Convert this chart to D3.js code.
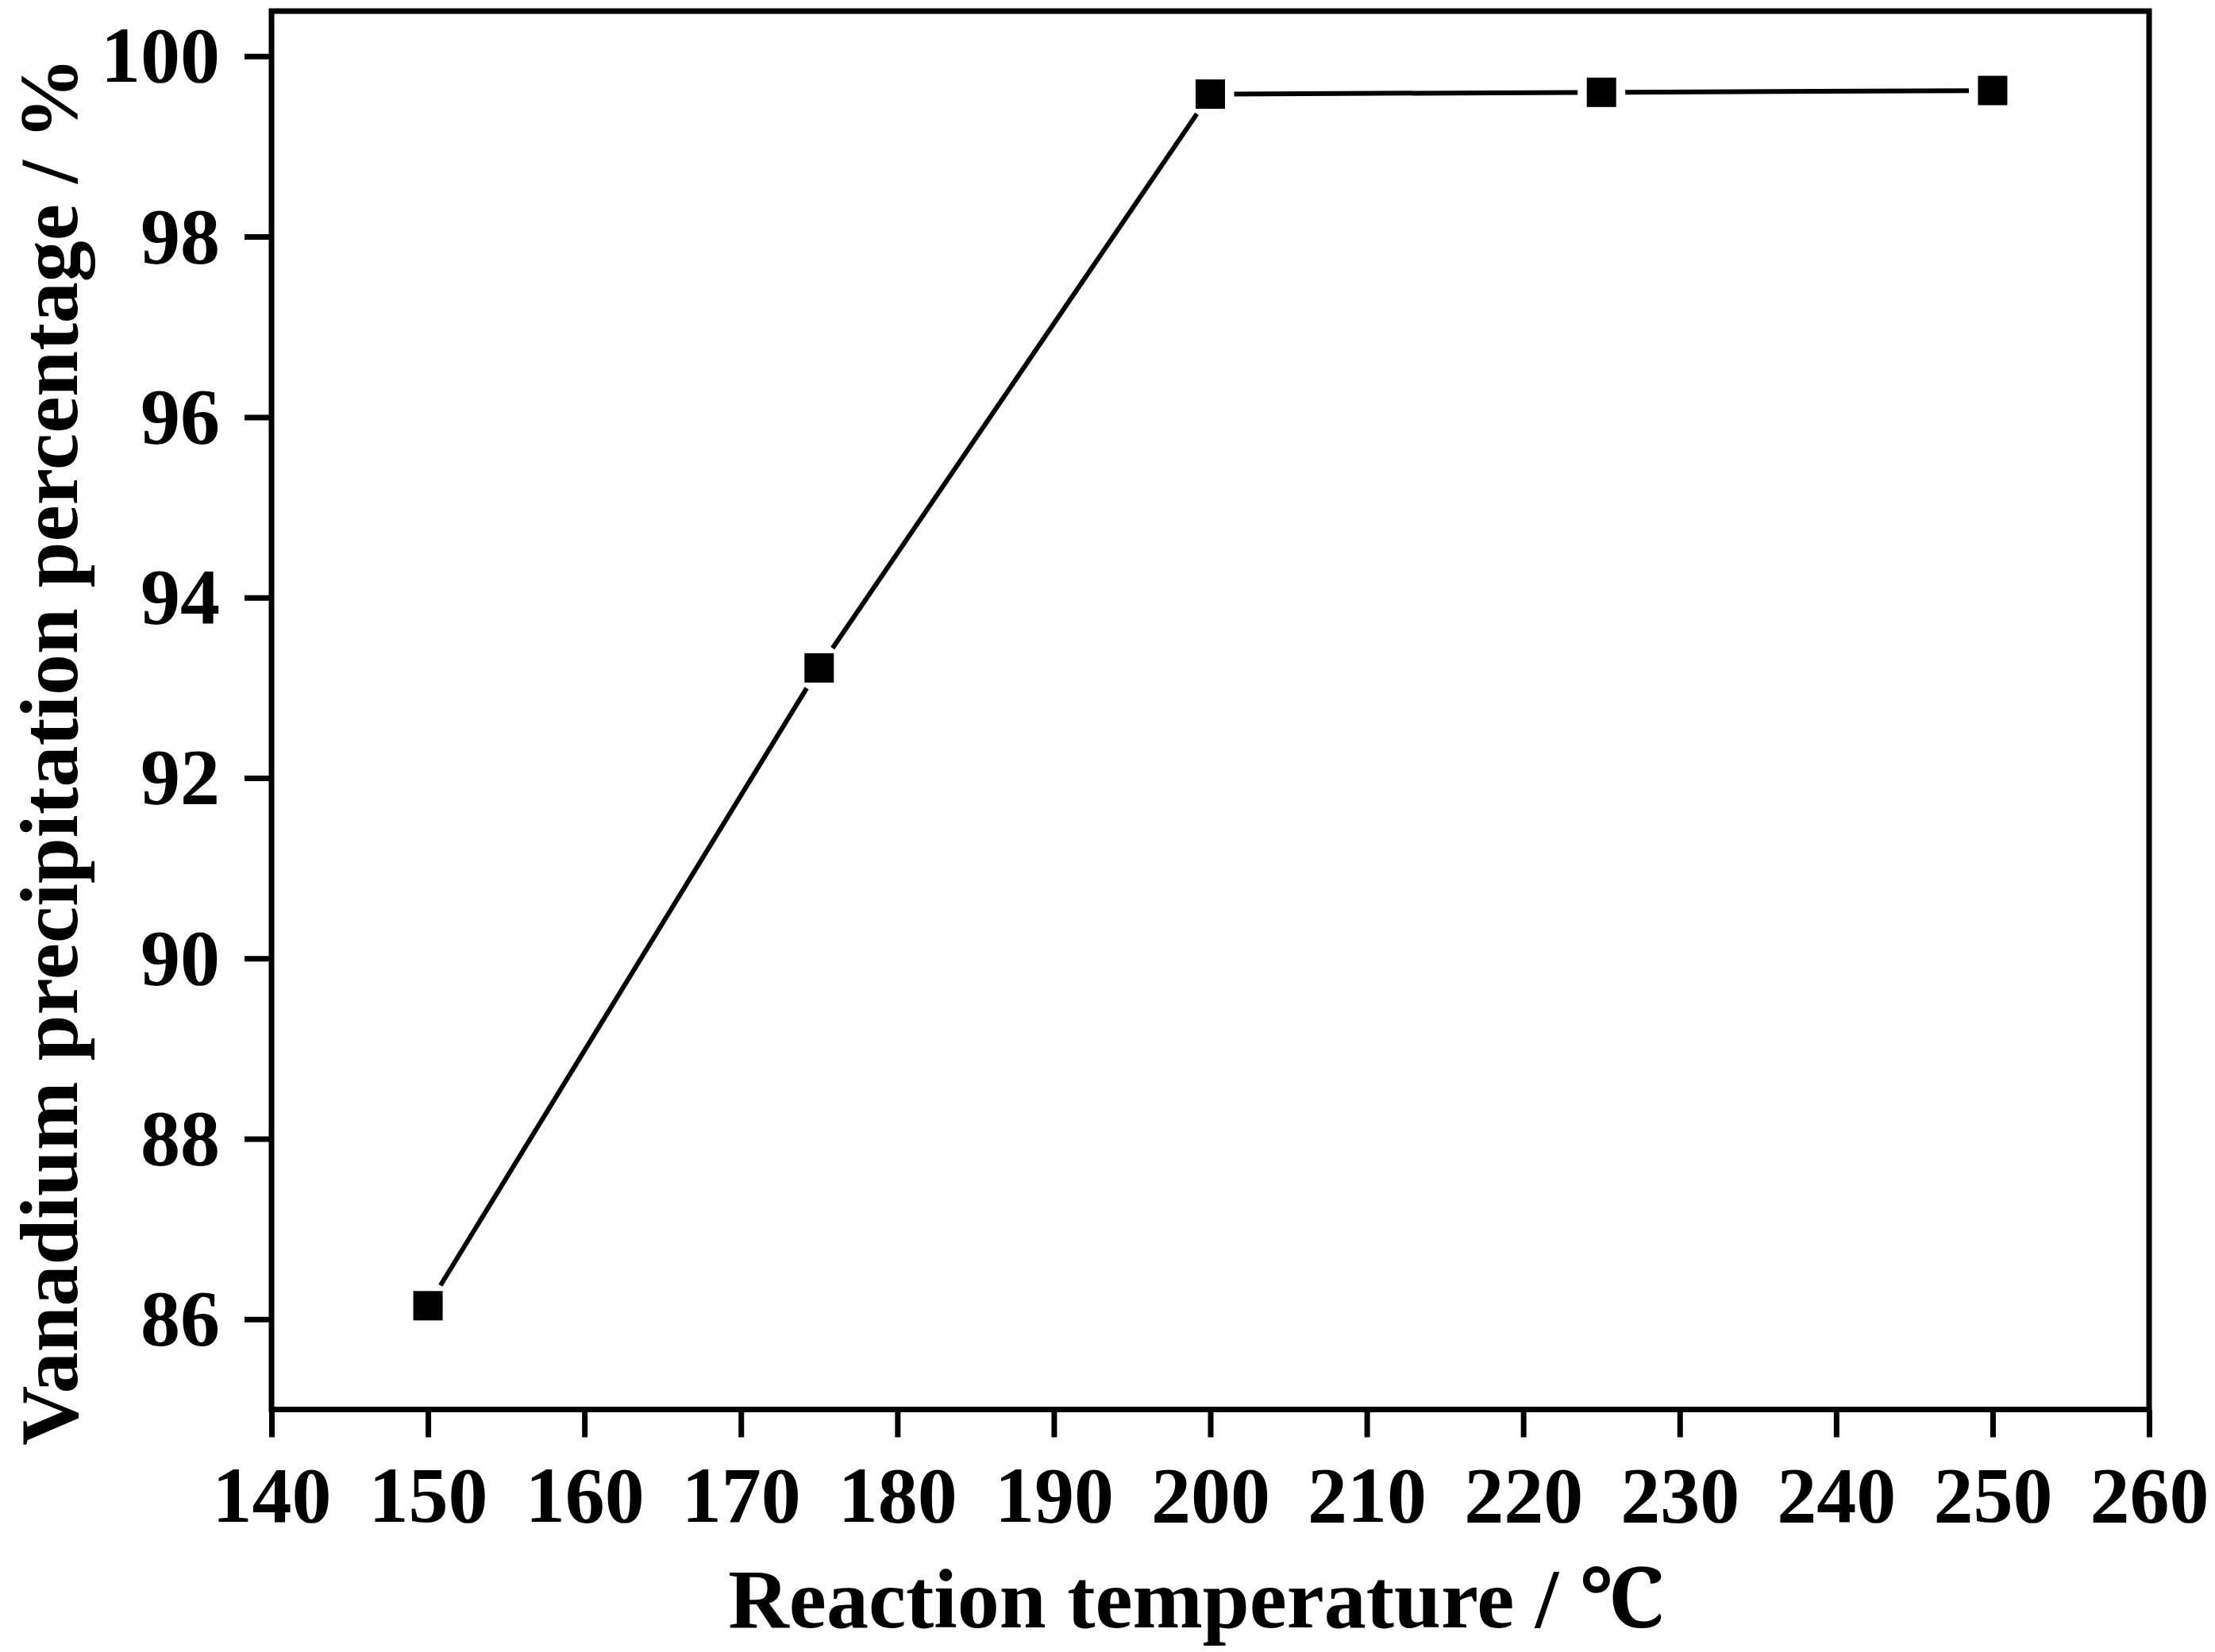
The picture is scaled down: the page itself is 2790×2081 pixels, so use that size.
<!DOCTYPE html>
<html>
<head>
<meta charset="utf-8">
<script src="https://cdn.jsdelivr.net/npm/d3@7"></script>
<style>
  html, body { margin: 0; padding: 0; background: #fff; }
  svg { display: block; }
  text { font-family: "Liberation Serif", "Times New Roman", "Noto Serif", serif; font-weight: bold; fill: #000; }
</style>
</head>
<body>
<svg id="chart" width="2790" height="2081"></svg>
<script>
// ---- data ----
const temperatures = [150, 175, 200, 225, 250];
const precipitation = [86.15, 93.22, 99.58, 99.60, 99.62];
const xTicks = [140, 150, 160, 170, 180, 190, 200, 210, 220, 230, 240, 250, 260];
const yTicks = [86, 88, 90, 92, 94, 96, 98, 100];
const xTitle = "Reaction temperature / \u2103";
const yTitle = "Vanadium precipitation percentage / %";

// ---- layout ----
const plotL = 342, plotR = 2707, plotT = 14, plotB = 1775.5;
const svg = d3.select("#chart");

const x = d3.scaleLinear().domain([140, 260]).range([plotL, plotR]);
const y = d3.scaleLinear().domain([85, 100.5]).range([plotB, plotT]);

const axisW = 7;

// bottom axis
const gx = svg.append("g").attr("transform", `translate(0,${plotB})`)
  .call(d3.axisBottom(x).tickValues(xTicks).tickSize(35).tickSizeOuter(0).tickFormat(d3.format("d")));
gx.select(".domain").remove();
gx.selectAll(".tick line").attr("stroke", "#000").attr("stroke-width", axisW);
gx.selectAll(".tick text").attr("y", 141.5).attr("dy", 0)
  .style("font-size", "100px").attr("font-family", null);

// left axis
const gy = svg.append("g").attr("transform", `translate(${plotL},0)`)
  .call(d3.axisLeft(y).tickValues(yTicks).tickSize(34).tickSizeOuter(0).tickFormat(d3.format("d")));
gy.select(".domain").remove();
gy.selectAll(".tick line").attr("stroke", "#000").attr("stroke-width", axisW);
gy.selectAll(".tick text").attr("x", -65).attr("dy", "0.32em")
  .style("font-size", "100px").attr("font-family", null);

// frame
svg.append("rect")
  .attr("x", plotL).attr("y", plotT)
  .attr("width", plotR - plotL).attr("height", plotB - plotT)
  .attr("fill", "none").attr("stroke", "#000").attr("stroke-width", axisW);

// data line with gaps around symbols
const pts = temperatures.map((t, i) => [x(t), y(precipitation[i])]);
const gap = 30;
const segs = [];
for (let i = 0; i < pts.length - 1; i++) {
  const [x1, y1] = pts[i], [x2, y2] = pts[i + 1];
  const len = Math.hypot(x2 - x1, y2 - y1);
  const ux = (x2 - x1) / len, uy = (y2 - y1) / len;
  segs.push([[x1 + ux * gap, y1 + uy * gap], [x2 - ux * gap, y2 - uy * gap]]);
}
svg.append("g").selectAll("path").data(segs).join("path")
  .attr("d", d => d3.line()(d))
  .attr("fill", "none").attr("stroke", "#000").attr("stroke-width", 6);

// markers
const ms = 37;
svg.append("g").selectAll("rect").data(temperatures).join("rect")
  .attr("x", (d) => x(d) - ms / 2)
  .attr("y", (d, i) => y(precipitation[i]) - ms / 2)
  .attr("width", ms).attr("height", ms)
  .attr("fill", "#000");

// axis titles
svg.append("text")
  .attr("x", (plotL + plotR) / 2 - 18).attr("y", 2050)
  .attr("text-anchor", "middle")
  .style("font-size", "106px")
  .text(xTitle);

svg.append("text")
  .attr("transform", `translate(97,${(27 + 1850) / 2 + 8}) rotate(-90)`)
  .attr("text-anchor", "middle")
  .style("font-size", "104px")
  .text(yTitle);
</script>
</body>
</html>
